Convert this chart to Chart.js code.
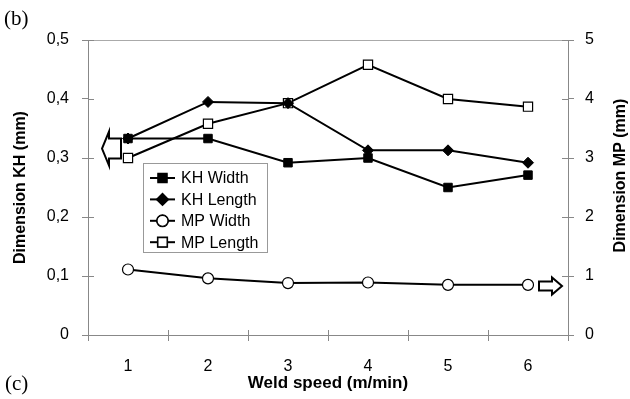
<!DOCTYPE html>
<html>
<head>
<meta charset="utf-8">
<script src="https://cdn.jsdelivr.net/npm/chart.js@4/dist/chart.umd.min.js"></script>
<style>
  html, body { margin: 0; padding: 0; background: #fff; }
  #wrap { width: 630px; height: 399px; position: relative; }
</style>
</head>
<body>
<div id="wrap"><canvas id="c"></canvas></div>
<script>
// ---- data ----
const speeds   = ['1', '2', '3', '4', '5', '6'];
const khWidth  = [0.333, 0.333, 0.292, 0.300, 0.250, 0.271];
const khLength = [0.333, 0.395, 0.393, 0.313, 0.313, 0.292];
const mpWidth  = [1.11, 0.96, 0.88, 0.89, 0.85, 0.85];
const mpLength = [3.00, 3.58, 3.93, 4.58, 4.00, 3.87];
const seriesNames = ['KH Width', 'KH Length', 'MP Width', 'MP Length'];

const AX = '#888';
const SANS = "'Liberation Sans', Arial, sans-serif";
const SERIF = "'Liberation Serif', 'Times New Roman', serif";

function arrow(ctx, x, y, dir, hl, hh, bl, bh) {
  // hollow block arrow, tip at (x,y), dir = -1 points left, 1 points right
  ctx.beginPath();
  ctx.moveTo(x, y);
  ctx.lineTo(x - dir * hl, y - hh / 2);
  ctx.lineTo(x - dir * hl, y - bh / 2);
  ctx.lineTo(x - dir * (hl + bl), y - bh / 2);
  ctx.lineTo(x - dir * (hl + bl), y + bh / 2);
  ctx.lineTo(x - dir * hl, y + bh / 2);
  ctx.lineTo(x - dir * hl, y + hh / 2);
  ctx.closePath();
  ctx.fillStyle = '#fff';
  ctx.fill();
  ctx.lineWidth = 2;
  ctx.strokeStyle = '#000';
  ctx.stroke();
}

const extras = {
  id: 'extras',
  afterDraw(chart) {
    const ctx = chart.ctx;
    const a = chart.chartArea;
    const sx = chart.scales.x, sy = chart.scales.y, sy1 = chart.scales.y1;
    ctx.save();

    // top frame line
    ctx.strokeStyle = '#aaa';
    ctx.lineWidth = 1;
    ctx.beginPath();
    ctx.moveTo(a.left, a.top + 0.5);
    ctx.lineTo(a.right, a.top + 0.5);
    ctx.stroke();

    // inner half of the crossing tick marks
    ctx.strokeStyle = AX;
    ctx.beginPath();
    sy.ticks.forEach(t => {
      const p = Math.round(sy.getPixelForValue(t.value)) + 0.5;
      ctx.moveTo(a.left, p); ctx.lineTo(a.left + 6, p);
    });
    sy1.ticks.forEach(t => {
      const p = Math.round(sy1.getPixelForValue(t.value)) + 0.5;
      ctx.moveTo(a.right - 6, p); ctx.lineTo(a.right, p);
    });
    for (let i = 0; i <= speeds.length; i++) {
      const p = Math.round(sx.getPixelForValue(i - 0.5)) + 0.5;
      ctx.moveTo(p, a.bottom - 5); ctx.lineTo(p, a.bottom);
    }
    ctx.stroke();

    // arrows pointing at the axis each group belongs to
    arrow(ctx, a.left + 14, sy.getPixelForValue(0.316), -1, 7, 34, 12, 20);
    arrow(ctx, a.right - 6, sy1.getPixelForValue(0.83), 1, 10, 17, 13, 9);

    // legend box
    const lx = 143, ly = 163, lw = 124, lh = 89;
    ctx.fillStyle = '#fff';
    ctx.fillRect(lx, ly, lw, lh);
    ctx.strokeStyle = '#999';
    ctx.lineWidth = 1;
    ctx.strokeRect(lx + 0.5, ly + 0.5, lw, lh);
    ctx.font = '16px ' + SANS;
    ctx.textBaseline = 'middle';
    ctx.textAlign = 'left';
    chart.data.datasets.forEach((ds, i) => {
      const yy = ly + 15 + i * 21.4;
      ctx.strokeStyle = '#000';
      ctx.lineWidth = 2;
      ctx.beginPath();
      ctx.moveTo(lx + 7, yy); ctx.lineTo(lx + 32, yy);
      ctx.stroke();
      Chart.helpers.drawPoint(ctx, {
        pointStyle: ds.pointStyle,
        radius: ds.pointRadius,
        borderWidth: ds.pointBorderWidth,
        rotation: 0
      }, lx + 19.5, yy);
      ctx.fillStyle = ds.pointBackgroundColor;
      ctx.strokeStyle = '#000';
      ctx.lineWidth = ds.pointBorderWidth;
      ctx.fill();
      ctx.stroke();
      ctx.fillStyle = '#000';
      ctx.fillText(ds.label, lx + 38, yy + 1);
    });

    // right axis title, reading bottom to top
    ctx.save();
    ctx.translate(621, (a.top + a.bottom) / 2 - 12);
    ctx.rotate(-Math.PI / 2);
    ctx.font = 'bold 16px ' + SANS;
    ctx.textAlign = 'center';
    ctx.fillStyle = '#000';
    ctx.fillText('Dimension MP (mm)', 0, 0);
    ctx.restore();

    // panel labels
    ctx.font = '21px ' + SERIF;
    ctx.fillStyle = '#000';
    ctx.textAlign = 'left';
    ctx.textBaseline = 'alphabetic';
    ctx.fillText('(b)', 4, 25);
    ctx.fillText('(c)', 5, 390);

    ctx.restore();
  }
};

function mk(label, data, axis, style, r, fill, bw) {
  return {
    label, data, yAxisID: axis,
    borderColor: '#000', borderWidth: 2,
    pointStyle: style, pointRadius: r, pointHoverRadius: r,
    pointBackgroundColor: fill, pointBorderColor: '#000', pointBorderWidth: bw,
    tension: 0, fill: false
  };
}

const datasets = [
  mk(seriesNames[0], khWidth, 'y', 'rect', 6, '#000', 1),
  mk(seriesNames[1], khLength, 'y', 'rectRot', 5.5, '#000', 1),
  mk(seriesNames[2], mpWidth, 'y1', 'circle', 5.5, '#fff', 1.2),
  mk(seriesNames[3], mpLength, 'y1', 'rect', 6.5, '#fff', 1.2)
];

new Chart(document.getElementById('c'), {
  type: 'line',
  data: { labels: speeds, datasets },
  options: {
    responsive: true,
    maintainAspectRatio: false,
    animation: false,
    layout: { padding: { top: 40, left: 0, right: 0, bottom: 0 } },
    plugins: { legend: { display: false }, tooltip: { enabled: false } },
    scales: {
      x: {
        offset: true,
        afterFit(s) { s.height = 64; },
        grid: { offset: true, drawOnChartArea: false, tickLength: 6, color: AX },
        border: { color: AX },
        ticks: { color: '#000', font: { size: 16, family: SANS }, padding: 16, maxRotation: 0 },
        title: { display: true, text: 'Weld speed (m/min)', color: '#000',
                 font: { size: 17, weight: 'bold', family: SANS }, padding: { top: 0, bottom: 5 } }
      },
      y: {
        position: 'left', min: 0, max: 0.5,
        afterFit(s) { s.width = 88; },
        grid: { drawOnChartArea: false, tickLength: 6, color: AX },
        border: { color: AX },
        ticks: { stepSize: 0.1, color: '#000', font: { size: 16, family: SANS }, padding: 13,
                 callback: v => v === 0 ? '0' : v.toFixed(1).replace('.', ',') },
        title: { display: true, text: 'Dimension KH (mm)', color: '#000',
                 font: { size: 16, weight: 'bold', family: SANS }, padding: { top: 11, bottom: 0 } }
      },
      y1: {
        position: 'right', min: 0, max: 5,
        afterFit(s) { s.width = 62; },
        grid: { drawOnChartArea: false, tickLength: 6, color: AX },
        border: { color: AX },
        ticks: { stepSize: 1, color: '#000', font: { size: 16, family: SANS }, padding: 11 }
      }
    }
  },
  plugins: [extras]
});
</script>
</body>
</html>
